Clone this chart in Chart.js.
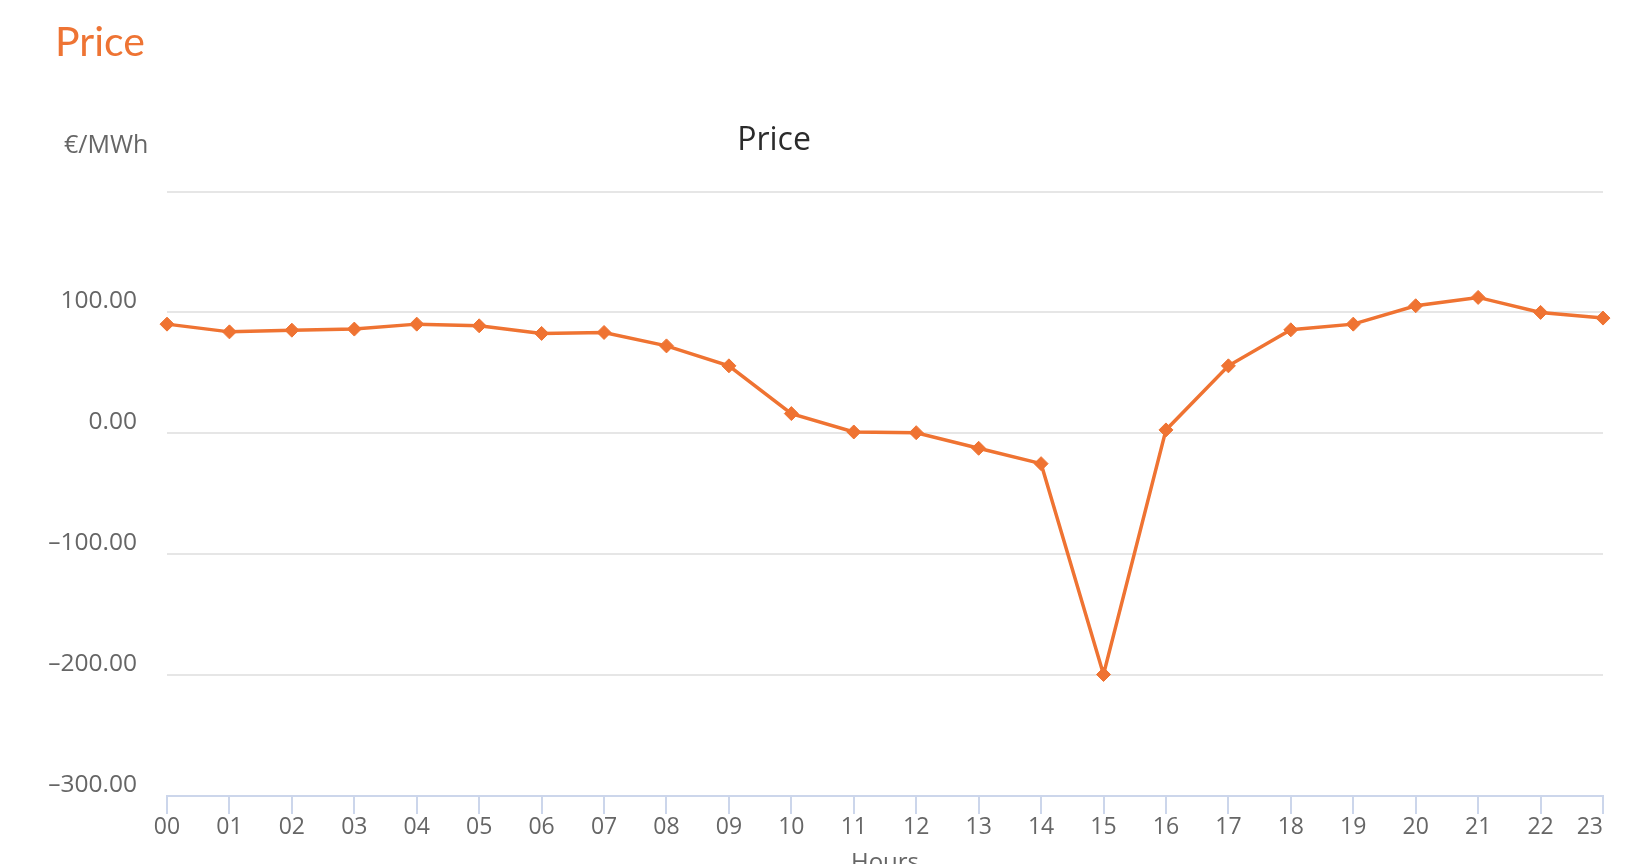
<!DOCTYPE html>
<html>
<head>
<meta charset="utf-8">
<script src="https://cdn.jsdelivr.net/npm/chart.js@4.4.1/dist/chart.umd.min.js"></script>
<style>
  html, body { margin: 0; padding: 0; background: #fff; overflow: hidden; }
  #wrap { position: relative; width: 1640px; height: 864px; overflow: hidden; }
  #myChart { position: absolute; left: 0; top: 0; }
  .txt { position: absolute; white-space: nowrap; }
  #heading { left: 55px; top: 20px; font: 41px/41px Lato, sans-serif; color: #ee7434; }
  #title { left: 674px; top: 122px; width: 200px; text-align: center; font: 32px/32px "Open Sans", sans-serif; color: #2b2b2b; }
  #unit { left: 64px; top: 131px; font: 25px/25px "Open Sans", sans-serif; color: #666666; }
</style>
</head>
<body>
<div id="wrap">
  <canvas id="myChart" width="1640" height="880"></canvas>
  <div id="heading" class="txt">Price</div>
  <div id="title" class="txt">Price</div>
  <div id="unit" class="txt">€/MWh</div>
</div>
<script>
document.addEventListener("DOMContentLoaded", function () {

    const hours = ["00", "01", "02", "03", "04", "05", "06", "07", "08", "09", "10", "11",
                   "12", "13", "14", "15", "16", "17", "18", "19", "20", "21", "22", "23"];

    const prices = [90.3, 83.9, 85.3, 86.2, 90.3, 88.9, 82.6, 83.4, 72.3, 55.8, 16.3, 1.1,
                    0.5, -12.4, -25.1, -199.5, 2.8, 55.8, 85.6, 90.3, 105.5, 112.4, 100.0, 95.3];

    const yMin = -300;
    const yMax = 200;
    const yStep = 100;

    const orange = '#ef7332';
    const canvasHeight = 880;

    const data = {
        labels: hours,
        datasets: [{
            label: 'Price',
            data: prices,
            borderColor: orange,
            backgroundColor: orange,
            borderWidth: 3.5,
            tension: 0,
            pointStyle: 'rectRot',
            pointRadius: 7,
            pointBorderWidth: 1,
            pointBackgroundColor: orange,
            pointBorderColor: orange
        }]
    };

    const config = {
        type: 'line',
        data: data,
        options: {
            responsive: false,
            animation: false,
            devicePixelRatio: 1,
            layout: {
                autoPadding: false,
                padding: { left: 0, right: 37, top: 191.5, bottom: 0 }
            },
            scales: {
                x: {
                    offset: false,
                    afterFit: function (scale) { scale.height = canvasHeight - 796; },
                    grid: {
                        display: true,
                        drawOnChartArea: false,
                        drawTicks: true,
                        tickLength: 18,
                        color: '#ccd6eb',
                        lineWidth: 2
                    },
                    border: { display: true, color: '#ccd6eb', width: 2 },
                    ticks: {
                        color: '#666666',
                        padding: 0,
                        maxRotation: 0,
                        autoSkip: false,
                        font: { family: 'Open Sans', size: 23 },
                        callback: function (val, i) {
                            // last label sits left of its tick, as in the original
                            return i === hours.length - 1 ? hours[i] + '\u2007\u2007' : hours[i];
                        }
                    },
                    title: {
                        display: true,
                        text: 'Hours',
                        color: '#666666',
                        font: { family: 'Open Sans', size: 24 },
                        padding: { top: 0, bottom: 2 }
                    }
                },
                y: {
                    min: yMin,
                    max: yMax,
                    afterFit: function (scale) { scale.width = 167; },
                    grid: {
                        drawTicks: false,
                        lineWidth: 2,
                        color: function (ctx) {
                            return ctx.tick && ctx.tick.value === yMin ? 'rgba(0,0,0,0)' : '#e6e6e6';
                        }
                    },
                    border: { display: false },
                    ticks: {
                        stepSize: yStep,
                        padding: 30,
                        labelOffset: -11,
                        color: '#666666',
                        font: { family: 'Open Sans', size: 24.5 },
                        callback: function (value) {
                            if (value === yMax) return '';
                            return value.toFixed(2).replace('-', '\u2013');
                        }
                    }
                }
            },
            plugins: {
                legend: { display: false },
                tooltip: { enabled: false }
            }
        }
    };

    var myChart = new Chart(
        document.getElementById('myChart'),
        config
    );
});
</script>
</body>
</html>
